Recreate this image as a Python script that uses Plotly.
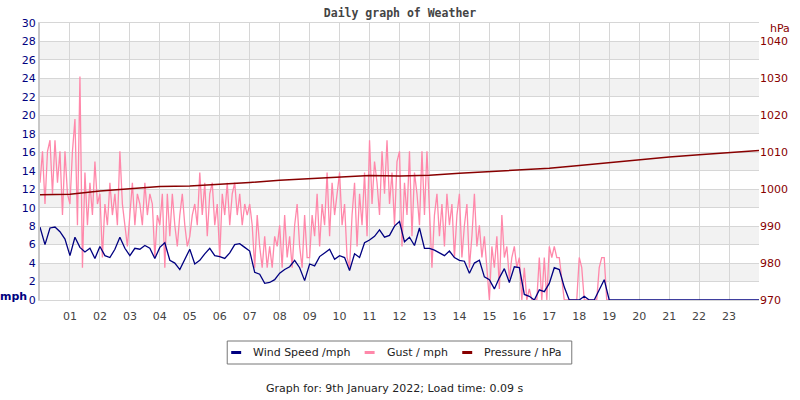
import plotly.graph_objects as go

# ---------------- data ----------------
hour_labels = ["01", "02", "03", "04", "05", "06", "07", "08", "09", "10", "11", "12",
               "13", "14", "15", "16", "17", "18", "19", "20", "21", "22", "23"]
hour_positions = list(range(1, 24))

# wind speed (mph), one value every 10 minutes from 00:00 to 24:00
wind_mph = [
    7.9, 6.0, 7.8, 7.9, 7.4, 6.6,
    4.8, 6.8, 5.7, 5.2, 5.6, 4.5,
    5.8, 4.8, 4.6, 5.5, 6.8, 5.6,
    4.8, 5.6, 5.5, 5.9, 5.6, 4.5,
    5.7, 6.2, 4.3, 4.0, 3.3, 4.4,
    5.5, 3.9, 4.3, 5.0, 5.6, 4.8,
    4.7, 4.5, 5.1, 6.0, 6.1, 5.7,
    5.3, 3.0, 2.8, 1.8, 1.9, 2.2,
    2.9, 3.3, 3.6, 4.3, 3.5, 2.1,
    3.9, 3.7, 4.7, 5.1, 5.5, 4.4,
    4.8, 4.6, 3.2, 5.0, 4.6, 6.2,
    6.5, 6.9, 7.6, 6.8, 7.0, 8.0,
    8.5, 6.3, 6.8, 5.9, 7.8, 5.6,
    5.6, 5.4, 5.1, 4.8, 5.3, 4.6,
    4.3, 4.2, 2.9, 4.0, 4.3, 2.5,
    2.2, 1.2, 2.4, 3.4, 1.9, 3.6,
    3.5, 0.6, 0.4, 0.0, 1.1, 0.9,
    1.8, 3.5, 3.3, 1.4, 0.0, 0.0,
    0.0, 0.4, 0.0, 0.0, 1.1, 2.2,
    0.0, 0.0, 0.0, 0.0, 0.0, 0.0,
    0.0, 0.0, 0.0, 0.0, 0.0, 0.0,
    0.0, 0.0, 0.0, 0.0, 0.0, 0.0,
    0.0, 0.0, 0.0, 0.0, 0.0, 0.0,
    0.0, 0.0, 0.0, 0.0, 0.0, 0.0,
    0.0,
]

# gust (mph), one value every 5 minutes from 00:00 to 19:00
gust_mph = [
    12.7, 16.1, 10.4, 16.1, 17.3, 11.5, 17.3, 12.7, 16.1, 9.2, 16.1, 11.5,
    10.4, 16.1, 19.6, 8.1, 24.2, 3.5, 13.8, 8.1, 12.7, 9.2, 15.0, 10.4,
    11.5, 4.6, 10.4, 8.1, 12.7, 9.2, 11.5, 8.1, 16.1, 10.4, 8.1, 5.8,
    9.2, 12.7, 8.1, 11.5, 10.4, 8.1, 12.7, 9.2, 11.5, 10.4, 4.6, 9.2,
    8.1, 11.5, 3.5, 11.5, 6.9, 11.5, 8.1, 5.8, 9.2, 11.5, 8.1, 5.8,
    6.9, 9.2, 10.4, 8.1, 13.8, 9.2, 12.7, 6.9, 11.5, 12.7, 8.1, 10.4,
    4.6, 11.5, 9.2, 12.7, 8.1, 11.5, 12.7, 9.2, 11.5, 8.1, 10.4, 9.2,
    10.4, 8.1, 3.5, 9.2, 5.8, 3.5, 6.9, 3.5, 5.8, 3.5, 6.9, 5.8,
    8.1, 3.5, 9.2, 4.6, 6.9, 3.5, 8.1, 10.4, 5.8, 3.5, 9.2, 4.6,
    4.6, 9.2, 6.9, 11.5, 5.8, 10.4, 8.1, 13.8, 6.9, 12.7, 9.2, 11.5,
    13.8, 8.1, 10.4, 4.6, 3.5, 9.2, 12.7, 5.8, 11.5, 8.1, 13.8, 6.9,
    17.3, 10.4, 15.0, 12.7, 9.2, 16.1, 11.5, 17.3, 10.4, 13.8, 8.1, 15.0,
    16.1, 5.8, 12.7, 9.2, 16.1, 6.9, 13.8, 11.5, 8.1, 16.1, 9.2, 16.1,
    10.4, 3.5, 9.2, 11.5, 6.9, 10.4, 5.8, 11.5, 8.1, 10.4, 4.6, 9.2,
    11.5, 4.6, 8.1, 10.4, 3.5, 6.9, 11.5, 5.8, 8.1, 4.6, 6.9, 3.5,
    0.0, 5.8, 3.5, 6.9, 1.2, 9.2, 4.6, 5.8, 2.3, 4.6, 5.8, 3.5,
    4.6, 0.0, 3.5, 0.0, 1.2, 0.0, 0.0, 0.0, 4.6, 0.0, 4.6, 0.0,
    5.8, 4.6, 5.8, 4.6, 4.6, 2.3, 0.0, 0.0, 0.0, 0.0, 0.0, 0.0,
    4.6, 3.5, 0.0, 0.0, 0.0, 0.0, 0.0, 0.0, 3.5, 4.6, 4.6, 0.0,
    0.0,
]

# pressure (hPa), hourly from 00:00 to 24:00
pressure_hpa = [998.5, 998.6, 999.5, 1000.2, 1000.7, 1000.9, 1001.3, 1001.8, 1002.4,
                1002.9, 1003.3, 1003.7, 1003.6, 1003.8, 1004.3, 1004.7, 1005.2, 1005.7,
                1006.4, 1007.2, 1007.9, 1008.7, 1009.3, 1009.9, 1010.5]

series_names = ["Wind Speed /mph", "Gust / mph", "Pressure / hPa"]
pressure_ticks = [970, 980, 990, 1000, 1010, 1020, 1030, 1040]

# ---------------- styling ----------------
WIND_C = "#000080"
GUST_C = "#ff88aa"
PRES_C = "#880000"
GRID_C = "#d6d6d6"
FONT = "DejaVu Sans"

# plot-area geometry (pixels) used to place decorations in paper coordinates
PL, PR, PT, PB = 40, 762, 23, 300
PW, PH = PR - PL, PB - PT


def px(x):
    return (x - PL) / PW


def py(y):
    return (PB - y) / PH


wind_t = [i / 6 for i in range(len(wind_mph))]
gust_t = [i / 12 for i in range(len(gust_mph))]
pres_t = list(range(len(pressure_hpa)))

fig = go.Figure()

fig.add_trace(go.Scatter(x=gust_t, y=gust_mph, mode="lines", name=series_names[1],
                         line=dict(color=GUST_C, width=1.3), showlegend=False,
                         hoverinfo="skip"))
fig.add_trace(go.Scatter(x=wind_t, y=wind_mph, mode="lines", name=series_names[0],
                         line=dict(color=WIND_C, width=1.3), showlegend=False,
                         hoverinfo="skip"))
fig.add_trace(go.Scatter(x=pres_t, y=pressure_hpa, mode="lines", name=series_names[2],
                         line=dict(color=PRES_C, width=1.5), yaxis="y2", showlegend=False,
                         hoverinfo="skip"))

# alternate grey bands
shapes = []
for b in [2, 6, 10, 14, 18, 22, 26]:
    shapes.append(dict(type="rect", xref="paper", yref="y", x0=0, x1=1, y0=b, y1=b + 2,
                       fillcolor="#f2f2f2", line=dict(width=0), layer="below"))

# legend box drawn like the original (compact key)
LEG_L, LEG_R, LEG_T, LEG_B, LEG_Y = 228, 574, 341, 364, 352.5
shapes.append(dict(type="rect", xref="paper", yref="paper", x0=px(LEG_L), x1=px(LEG_R),
                   y0=py(LEG_B), y1=py(LEG_T), line=dict(color="#777", width=1),
                   fillcolor="white"))
legend_keys = [(232, 252), (366, 386), (464, 484)]
annotations = []
for (kx, tx), name, col in zip(legend_keys, series_names, [WIND_C, GUST_C, PRES_C]):
    shapes.append(dict(type="line", xref="paper", yref="paper", x0=px(kx), x1=px(kx + 10),
                       y0=py(LEG_Y), y1=py(LEG_Y), line=dict(color=col, width=3)))
    annotations.append(dict(text=name, xref="paper", yref="paper", x=px(tx), y=py(LEG_Y),
                            showarrow=False, xanchor="left", yanchor="middle",
                            font=dict(family=FONT, size=11, color="#222")))

annotations += [
    dict(text="<b>mph</b>", xref="paper", yref="paper", x=px(13), y=py(296),
         showarrow=False, xanchor="center", yanchor="middle",
         font=dict(family=FONT, size=11, color=WIND_C)),
    dict(text="hPa", xref="paper", yref="paper", x=px(783), y=py(28),
         showarrow=False, xanchor="center", yanchor="middle",
         font=dict(family=FONT, size=11, color=PRES_C)),
    dict(text="Graph for: 9th January 2022; Load time: 0.09 s", xref="paper",
         yref="paper", x=px(396), y=py(388), showarrow=False,
         xanchor="center", yanchor="middle",
         font=dict(family=FONT, size=11, color="#222")),
]

fig.update_layout(
    width=800, height=400,
    margin=dict(l=PL, r=800 - PR, t=PT, b=400 - PB),
    paper_bgcolor="white", plot_bgcolor="white",
    font=dict(family=FONT, size=11, color="#333"),
    title=dict(text="<b>Daily graph of Weather</b>", x=0.5, xanchor="center",
               y=1 - 13 / 400, yanchor="middle",
               font=dict(family="DejaVu Sans Mono", size=11.5, color="#444")),
    shapes=shapes,
    annotations=annotations,
    showlegend=False,
    xaxis=dict(range=[0, 24], tickmode="array", tickvals=hour_positions, ticktext=hour_labels,
               showgrid=True, gridcolor=GRID_C, gridwidth=1, zeroline=False,
               showline=True, linecolor=GRID_C, linewidth=1, mirror=True,
               ticks="", ticklabelstandoff=6,
               tickfont=dict(family=FONT, size=11, color="#444"),
               fixedrange=True),
    yaxis=dict(range=[0, 30], tick0=0, dtick=2, showgrid=True, gridcolor=GRID_C,
               gridwidth=1, zeroline=False, showline=True, linecolor="#c8c8c8",
               linewidth=2, ticks="", tickfont=dict(family=FONT, size=11, color=WIND_C),
               fixedrange=True),
    yaxis2=dict(range=[970, 1045], overlaying="y", side="right", tickmode="array",
                tickvals=pressure_ticks,
                showgrid=False, zeroline=False, showline=False, ticks="",
                tickfont=dict(family=FONT, size=11, color=PRES_C), fixedrange=True),
    hovermode=False,
)

fig.write_html("out.html", config={"displayModeBar": False})
